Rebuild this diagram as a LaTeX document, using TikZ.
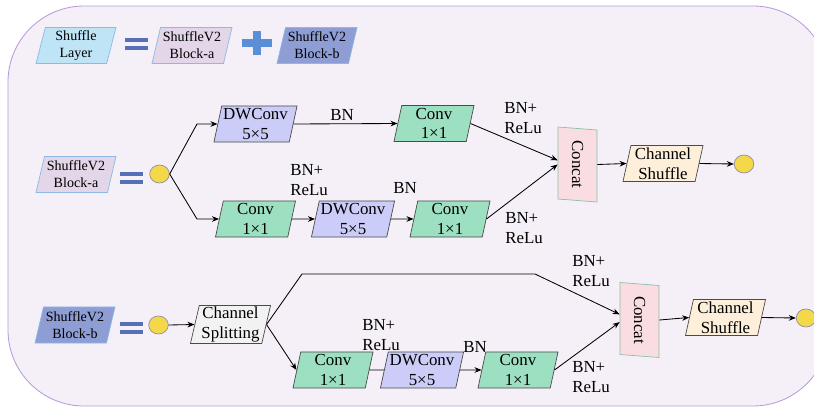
\documentclass[tikz,border=0pt]{standalone}
\usepackage{fontspec}
\setmainfont{Liberation Serif}
\usetikzlibrary{shapes.geometric,arrows.meta}

\definecolor{bgfill}{HTML}{F5F0F7}
\definecolor{bgline}{HTML}{B99BDA}
\definecolor{boxline}{HTML}{4A4A4A}
\definecolor{legline}{HTML}{8CB9E6}
\definecolor{layerfill}{HTML}{BEE4F5}
\definecolor{blockafill}{HTML}{E2D6E8}
\definecolor{blockbfill}{HTML}{8E9DD3}
\definecolor{eqblue}{HTML}{5570B6}
\definecolor{plusblue}{HTML}{5A8FD8}
\definecolor{dwfill}{HTML}{CBCCF7}
\definecolor{convfill}{HTML}{9DDFC1}
\definecolor{concatfill}{HTML}{F9DDE2}
\definecolor{concatline}{HTML}{8CC0A5}
\definecolor{shufflefill}{HTML}{FDEFD9}
\definecolor{splitfill}{HTML}{F2F2F2}
\definecolor{dotfill}{HTML}{F5D84A}
\definecolor{dotline}{HTML}{8A8FA8}

\begin{document}
\begin{tikzpicture}
  [x=0.025cm,y=-0.025cm,
   box/.style={trapezium,trapezium left angle=77,trapezium right angle=103,
     trapezium stretches body,draw=boxline,line width=0.5pt,
     minimum width=2cm,minimum height=0.9cm,inner sep=1pt,align=center,
     font=\fontsize{12}{14}\selectfont},
   leg/.style={box,trapezium left angle=74,trapezium right angle=106,
     draw=legline,font=\fontsize{10}{12}\selectfont},
   concat/.style={box,rotate=-90,fill=concatfill,draw=concatline,
     minimum width=1.875cm,minimum height=0.975cm,
     trapezium left angle=78,trapezium right angle=102},
   dot/.style={ellipse,draw=dotline,line width=0.5pt,fill=dotfill,
     minimum width=0.49cm,minimum height=0.45cm,inner sep=0pt},
   lbl/.style={align=left,inner sep=0pt,font=\fontsize{12}{14}\selectfont},
   arr/.style={-{Stealth[length=5pt,width=4pt]},line width=0.6pt}]

  \useasboundingbox (0,0) rectangle (814,407);
  \draw[draw=bgline,fill=bgfill,line width=0.6pt,rounded corners=1.9cm]
    (8,6) rectangle (829,406);

  % legend
  \node[leg,fill=layerfill] (l1) at (76,45.5) {Shuffle\\Layer};
  \node[leg,fill=blockafill] (l2) at (192,45.5) {ShuffleV2\\Block-a};
  \node[leg,fill=blockbfill] (l3) at (317,45.5) {ShuffleV2\\Block-b};
  \foreach \x/\y in {125/40,120/174,120/324}
    {\fill[eqblue] (\x,\y-2) rectangle (\x+23,\y+2);
     \fill[eqblue] (\x,\y+6) rectangle (\x+23,\y+10);}
  \fill[plusblue] (242,39) rectangle (272,47);
  \fill[plusblue] (253,31) rectangle (261,55);

  % block a
  \node[leg,fill=blockafill] (a1) at (76,174.5) {ShuffleV2\\Block-a};
  \node[dot] (a2) at (159.5,174) {};
  \node[box,fill=dwfill] (a3) at (255.5,124) {DWConv\\5×5};
  \node[box,fill=convfill] (a4) at (434,123.5) {Conv\\1×1};
  \node[box,fill=convfill] (a5) at (255.5,219) {Conv\\1×1};
  \node[box,fill=dwfill] (a6) at (353,219) {DWConv\\5×5};
  \node[box,fill=convfill] (a7) at (450,219) {Conv\\1×1};
  \node[concat] (a8) at (577.5,164.5) {Concat};
  \node[box,fill=shufflefill] (a9) at (663,163.5) {Channel\\Shuffle};
  \node[dot] (a10) at (744,164) {};

  \node[lbl] (t1) at (342,115) {BN};
  \node[lbl] (t2) at (309,180) {BN+\\ReLu};
  \node[lbl] (t3) at (405,188) {BN};
  \node[lbl] (t4) at (523,118) {BN+\\ReLu};
  \node[lbl] (t5) at (524,228) {BN+\\ReLu};

  \draw[arr] (a2.east) -- (197,124) -- (a3.west);
  \draw[arr] (a2.east) -- (197,219) -- (a5.west);
  \draw[arr] (a3.east) -- (a4.west);
  \draw[arr] (a5.east) -- (a6.west);
  \draw[arr] (a6.east) -- (a7.west);
  \draw[arr] (a4.east) -- ([yshift=3pt]a8.south);
  \draw[arr] (a7.east) -- (a8.south);
  \draw[arr] (a8.north) -- (a9.west);
  \draw[arr] (a9.east) -- (a10.west);

  % block b
  \node[leg,fill=blockbfill] (b1) at (75,325) {ShuffleV2\\Block-b};
  \node[dot] (b2) at (158.5,325) {};
  \node[box,fill=splitfill] (b3) at (230.5,324.5) {Channel\\Splitting};
  \node[box,fill=convfill] (b4) at (333,370) {Conv\\1×1};
  \node[box,fill=dwfill] (b5) at (422,370) {DWConv\\5×5};
  \node[box,fill=convfill] (b6) at (518,370) {Conv\\1×1};
  \node[concat] (b7) at (639.5,320) {Concat};
  \node[box,fill=shufflefill] (b8) at (725.5,317.5) {Channel\\Shuffle};
  \node[dot] (b9) at (806,318) {};

  \node[lbl] (t6) at (381,335) {BN+\\ReLu};
  \node[lbl] (t7) at (475,347) {BN};
  \node[lbl] (t8) at (591,271) {BN+\\ReLu};
  \node[lbl] (t9) at (591,377) {BN+\\ReLu};

  \draw[arr] (b2.east) -- (b3.west);
  \draw[arr] (b3.east) -- (302,274) -- (535,274) -- ([yshift=4pt]b7.south);
  \draw[arr] (b3.east) -- (b4.west);
  \draw[line width=0.6pt] (b4.east) -- (b5.west);
  \draw[arr] (b5.east) -- (b6.west);
  \draw[arr] (b6.east) -- ([yshift=-1.5pt]b7.south);
  \draw[arr] (b7.north) -- (b8.west);
  \draw[arr] (b8.east) -- (b9.west);

\end{tikzpicture}
\end{document}
